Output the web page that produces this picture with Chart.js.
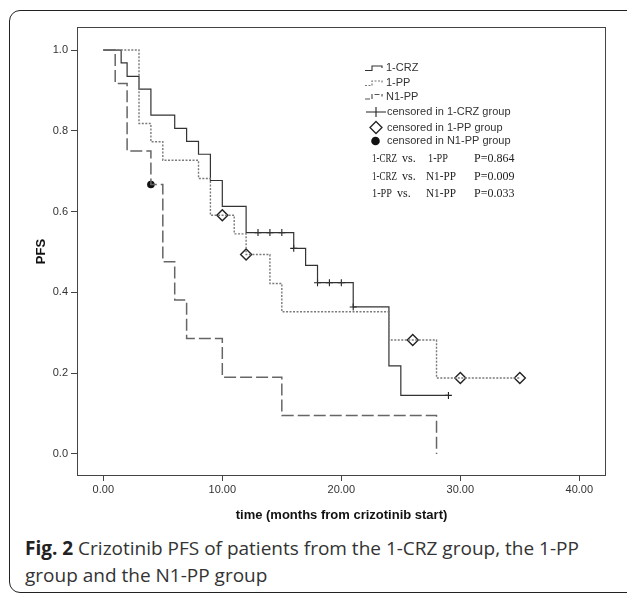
<!DOCTYPE html>
<html>
<head>
<meta charset="utf-8">
<script src="https://cdn.jsdelivr.net/npm/chart.js@4"></script>
<style>
  html, body { margin: 0; padding: 0; background: #fff; }
  body { width: 627px; height: 594px; position: relative; overflow: hidden; }
  #frame { position: absolute; left: 9px; top: 10px; width: 700px; height: 583px; border: 1.5px solid #222; border-radius: 11px; box-sizing: border-box; }
  #wrap { position: absolute; left: 0; top: 0; width: 627px; height: 530px; }
  #caption { position: absolute; left: 25px; top: 535px; font-family: "Open Sans"; font-size: 19px; line-height: 27px; color: #333; white-space: nowrap; }
  #caption b { color: #222; }
</style>
</head>
<body>
<div id="frame"></div>
<div id="wrap"><canvas id="km"></canvas></div>
<div id="caption"><b>Fig. 2</b> Crizotinib PFS of patients from the 1-CRZ group, the 1-PP<br>group and the N1-PP group</div>
<script>
// Kaplan-Meier steps (time in months, PFS proportion)
const crzTime = [0, 1.5, 2, 3, 4, 6, 7, 8, 9, 10, 12, 16, 17, 18, 21, 24, 25, 29];
const crzPfs  = [1, 0.968, 0.935, 0.903, 0.839, 0.806, 0.774, 0.742, 0.677, 0.613, 0.548, 0.509, 0.467, 0.424, 0.364, 0.218, 0.145, 0.145];
const crzCensTime = [13, 14, 15, 16, 18, 19, 20, 21, 29];
const crzCensPfs  = [0.548, 0.548, 0.548, 0.509, 0.424, 0.424, 0.424, 0.364, 0.145];

const ppTime = [0, 3, 4, 5, 8, 9, 11, 12, 14, 15, 24, 28, 35];
const ppPfs  = [1, 0.818, 0.773, 0.727, 0.682, 0.591, 0.545, 0.494, 0.422, 0.352, 0.282, 0.188, 0.188];
const ppCensTime = [10, 12, 26, 30, 35];
const ppCensPfs  = [0.591, 0.494, 0.282, 0.188, 0.188];

const n1Time = [0, 1, 2, 4, 5, 6, 7, 10, 15, 28];
const n1Pfs  = [1, 0.917, 0.75, 0.667, 0.476, 0.381, 0.286, 0.190, 0.095, 0];
const n1CensTime = [4];
const n1CensPfs  = [0.667];

const xTicks = [0, 10, 20, 30, 40];
const yTicks = [0, 0.2, 0.4, 0.6, 0.8, 1.0];

const groups = ['1-CRZ', '1-PP', 'N1-PP'];
const censorLabels = ['censored in 1-CRZ group', 'censored in 1-PP group', 'censored in N1-PP group'];
const comparisons = [
    ['1-CRZ', '1-PP', 'P=0.864'],
    ['1-CRZ', 'N1-PP', 'P=0.009'],
    ['1-PP', 'N1-PP', 'P=0.033']
];

const pts = (xs, ys) => xs.map((x, i) => ({ x: x, y: ys[i] }));

// Legend block and p values drawn next to the curves
const kmLegend = {
    id: 'kmLegend',
    afterDraw(chart) {
        const ctx = chart.ctx;
        const a = chart.chartArea;
        ctx.save();
        ctx.strokeStyle = '#444';
        ctx.lineWidth = 1;
        ctx.setLineDash([]);
        ctx.strokeRect(a.left + 0.5, a.top + 0.5, a.right - a.left - 1, a.bottom - a.top - 1);

        const lx = 365, tx = 386;
        const rows = [68, 83, 96.5];
        const styles = [
            { c: '#333', d: [] , w: 1.1 },
            { c: '#777', d: [2, 1.5], w: 1.2 },
            { c: '#555', d: [5, 2], w: 1.2 }
        ];
        ctx.font = '11px "Liberation Sans"';
        ctx.textBaseline = 'middle';
        ctx.fillStyle = '#333';
        rows.forEach((y, i) => {
            ctx.strokeStyle = styles[i].c;
            ctx.lineWidth = styles[i].w;
            ctx.setLineDash(styles[i].d);
            ctx.beginPath();
            ctx.moveTo(lx, y + 2.5);
            ctx.lineTo(lx + 7, y + 2.5);
            ctx.lineTo(lx + 7, y - 2);
            ctx.lineTo(lx + 17, y - 2);
            ctx.lineTo(lx + 17, y);
            ctx.stroke();
            ctx.fillText(groups[i], tx, y);
        });
        ctx.setLineDash([]);

        // censor symbols
        ctx.strokeStyle = '#222';
        ctx.lineWidth = 1.1;
        let y = 112;
        ctx.beginPath();
        ctx.moveTo(366, y); ctx.lineTo(386, y);
        ctx.moveTo(376, y - 5); ctx.lineTo(376, y + 5);
        ctx.stroke();
        ctx.fillText(censorLabels[0], tx + 1, y);

        y = 127.5;
        ctx.lineWidth = 1.3;
        ctx.beginPath();
        ctx.moveTo(376, y - 6); ctx.lineTo(382, y); ctx.lineTo(376, y + 6); ctx.lineTo(370, y);
        ctx.closePath();
        ctx.stroke();
        ctx.fillText(censorLabels[1], tx + 1, y);

        y = 141;
        ctx.fillStyle = '#111';
        ctx.beginPath();
        ctx.arc(375.5, y, 4.3, 0, Math.PI * 2);
        ctx.fill();
        ctx.fillStyle = '#333';
        ctx.fillText(censorLabels[2], tx + 1, y);

        // log-rank p values (narrow serif, like the original's bitmap font)
        ctx.font = '12px "Liberation Serif"';
        ctx.fillStyle = '#222';
        const cy = [159, 176.5, 194];
        const nameW = n => n.length === 5 ? (n[0] === 'N' ? 30 : 25) : 20;
        comparisons.forEach((c, i) => {
            const x2 = i === 2 ? 397 : 402;
            ctx.fillText(c[0], 372, cy[i], nameW(c[0]));
            ctx.fillText('vs.', x2, cy[i], 14);
            ctx.fillText(c[1], i === 0 ? 428 : 426, cy[i], nameW(c[1]));
            ctx.fillText(c[2], 474, cy[i], 42);
        });
        ctx.restore();
    }
};

const ctx = document.getElementById('km').getContext('2d');
new Chart(ctx, {
    type: 'line',
    data: {
        datasets: [
            { label: 'N1-PP', data: pts(n1Time, n1Pfs), stepped: true, borderColor: '#666', borderWidth: 1.5, borderDash: [12, 4], pointRadius: 0, fill: false },
            { label: '1-PP', data: pts(ppTime, ppPfs), stepped: true, borderColor: '#7a7a7a', borderWidth: 1.4, borderDash: [2, 1.5], pointRadius: 0, fill: false },
            { label: '1-CRZ', data: pts(crzTime, crzPfs), stepped: true, borderColor: '#333', borderWidth: 1.2, pointRadius: 0, fill: false },
            { label: 'censored 1-CRZ', data: pts(crzCensTime, crzCensPfs), showLine: false, pointStyle: 'cross', pointRadius: 3.5, borderColor: '#222', borderWidth: 1.1 },
            { label: 'censored 1-PP', data: pts(ppCensTime, ppCensPfs), showLine: false, pointStyle: 'rectRot', pointRadius: 5.5, borderColor: '#222', backgroundColor: '#fff', borderWidth: 1.4 },
            { label: 'censored N1-PP', data: pts(n1CensTime, n1CensPfs), showLine: false, pointStyle: 'circle', pointRadius: 3.8, borderColor: '#111', backgroundColor: '#111', borderWidth: 0 }
        ]
    },
    options: {
        responsive: true,
        maintainAspectRatio: false,
        animation: false,
        layout: { padding: { left: 0, top: 27, right: 21, bottom: 0 } },
        plugins: { legend: { display: false }, tooltip: { enabled: false } },
        scales: {
            x: {
                type: 'linear',
                min: -2.21,
                max: 42.24,
                afterBuildTicks: s => { s.ticks = xTicks.map(v => ({ value: v })); },
                afterFit: s => { s.height = 54; },
                grid: { drawOnChartArea: false, tickLength: 5, color: '#444' },
                border: { display: false },
                ticks: { padding: 2, color: '#333', font: { family: 'Liberation Sans', size: 11 }, maxRotation: 0, autoSkip: false, callback: v => v.toFixed(2) },
                title: { display: true, text: 'time (months from crizotinib start)', color: '#111', font: { family: 'Liberation Sans', size: 13, weight: 'bold' }, padding: { top: 0, bottom: 7 } }
            },
            y: {
                min: -0.0545,
                max: 1.057,
                afterBuildTicks: s => { s.ticks = yTicks.map(v => ({ value: v })); },
                afterFit: s => { s.width = 77; },
                grid: { drawOnChartArea: false, tickLength: 6, color: '#444' },
                border: { display: false },
                ticks: { padding: 3, color: '#333', font: { family: 'Liberation Sans', size: 11 }, callback: v => v.toFixed(1) },
                title: { display: true, text: 'PFS', color: '#111', font: { family: 'Liberation Sans', size: 13, weight: 'bold' }, padding: { top: 34, bottom: 0 } }
            }
        }
    },
    plugins: [kmLegend]
});
</script>
</body>
</html>
